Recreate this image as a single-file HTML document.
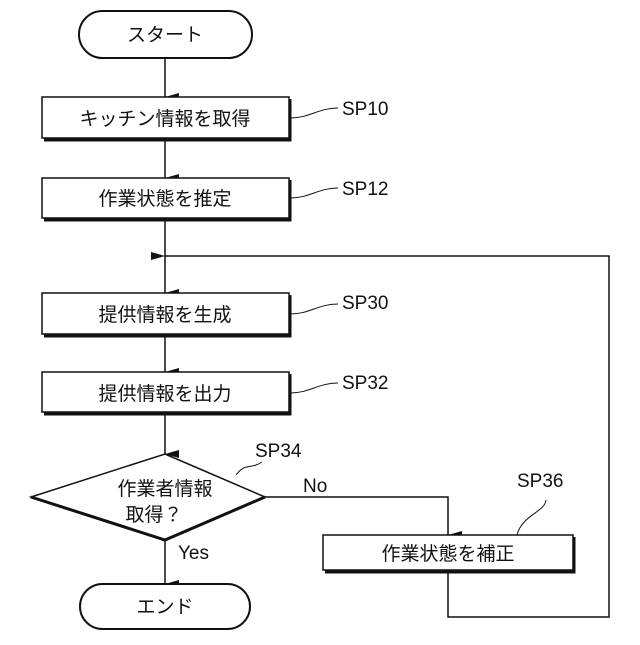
<!DOCTYPE html>
<html><head><meta charset="utf-8"><style>
html,body{margin:0;padding:0;background:#fff}
svg text{font-family:"Liberation Sans","Noto Sans CJK JP",sans-serif;fill:#111}
</style></head><body>
<svg width="640" height="640" viewBox="0 0 640 640" xmlns="http://www.w3.org/2000/svg">
<defs><marker id="a" markerWidth="8" markerHeight="14" refX="4" refY="14" orient="auto" markerUnits="userSpaceOnUse"><path d="M0,0 L8,0 L4,14 Z" fill="#111"/></marker>
<marker id="b" markerWidth="14" markerHeight="8" refX="0" refY="4" orient="auto-start-reverse" markerUnits="userSpaceOnUse"><path d="M14,0 L14,8 L0,4 Z" fill="#111"/></marker></defs>
<g stroke="#111" fill="none" stroke-width="1.5">
<rect x="79" y="11" width="173" height="47" rx="23.5" fill="#fff" stroke-width="2"/>
<line x1="165" y1="58" x2="165" y2="97" marker-end="url(#a)"/>
<rect x="42" y="97" width="247" height="41" fill="#fff"/>
<polyline points="290,99 290,140 44,140" stroke-width="3"/>
<line x1="165" y1="140" x2="165" y2="178" marker-end="url(#a)"/>
<rect x="42" y="178" width="247" height="40" fill="#fff"/>
<polyline points="290,180 290,220 44,220" stroke-width="3"/>
<line x1="165" y1="220" x2="165" y2="293" marker-end="url(#a)"/>
<rect x="42" y="293" width="247" height="41" fill="#fff"/>
<polyline points="290,295 290,336 44,336" stroke-width="3"/>
<line x1="165" y1="336" x2="165" y2="372" marker-end="url(#a)"/>
<rect x="42" y="372" width="247" height="40" fill="#fff"/>
<polyline points="290,374 290,414 44,414" stroke-width="3"/>
<line x1="165" y1="414" x2="165" y2="454" marker-end="url(#a)"/>
<polygon points="165,454 265,497 165,540 31,497" fill="#fff"/>
<polyline points="265,497 165,540 31,497" stroke-width="3"/>
<line x1="165" y1="540" x2="165" y2="584" marker-end="url(#a)"/>
<rect x="80" y="584" width="170" height="45" rx="22.5" fill="#fff" stroke-width="2"/>
<polyline points="265,497 448,497 448,535" marker-end="url(#a)"/>
<rect x="323" y="535" width="250" height="35" fill="#fff"/>
<polyline points="574,537 574,572 325,572" stroke-width="3"/>
<polyline points="448,572 448,617 609,617 609,256 165,256" marker-end="url(#b)"/>
<path d="M290,118 C310,118 318,108 338,108" stroke-width="1"/>
<path d="M290,198 C310,198 318,188 338,188" stroke-width="1"/>
<path d="M290,314 C310,314 318,304 338,304" stroke-width="1"/>
<path d="M290,393 C310,393 318,383 338,383" stroke-width="1"/>
<path d="M236,475 C246,462 250,470 262,462" stroke-width="1"/>
<path d="M517,535 C522,515 545,512 546,500" stroke-width="1"/>
</g>
<g font-size="19" text-anchor="middle">
<text x="165" y="41">スタート</text>
<text x="165" y="125">キッチン情報を取得</text>
<text x="165" y="205">作業状態を推定</text>
<text x="165" y="321">提供情報を生成</text>
<text x="165" y="400">提供情報を出力</text>
<text x="165" y="495">作業者情報</text>
<text x="154" y="521">取得？</text>
<text x="165" y="613">エンド</text>
<text x="448" y="560">作業状態を補正</text>
</g>
<g font-size="19">
<text x="342" y="115">SP10</text>
<text x="342" y="195">SP12</text>
<text x="342" y="309">SP30</text>
<text x="342" y="389">SP32</text>
<text x="255" y="457">SP34</text>
<text x="303" y="492">No</text>
<text x="178" y="559">Yes</text>
<text x="517" y="487">SP36</text>
</g>
</svg>
</body></html>
